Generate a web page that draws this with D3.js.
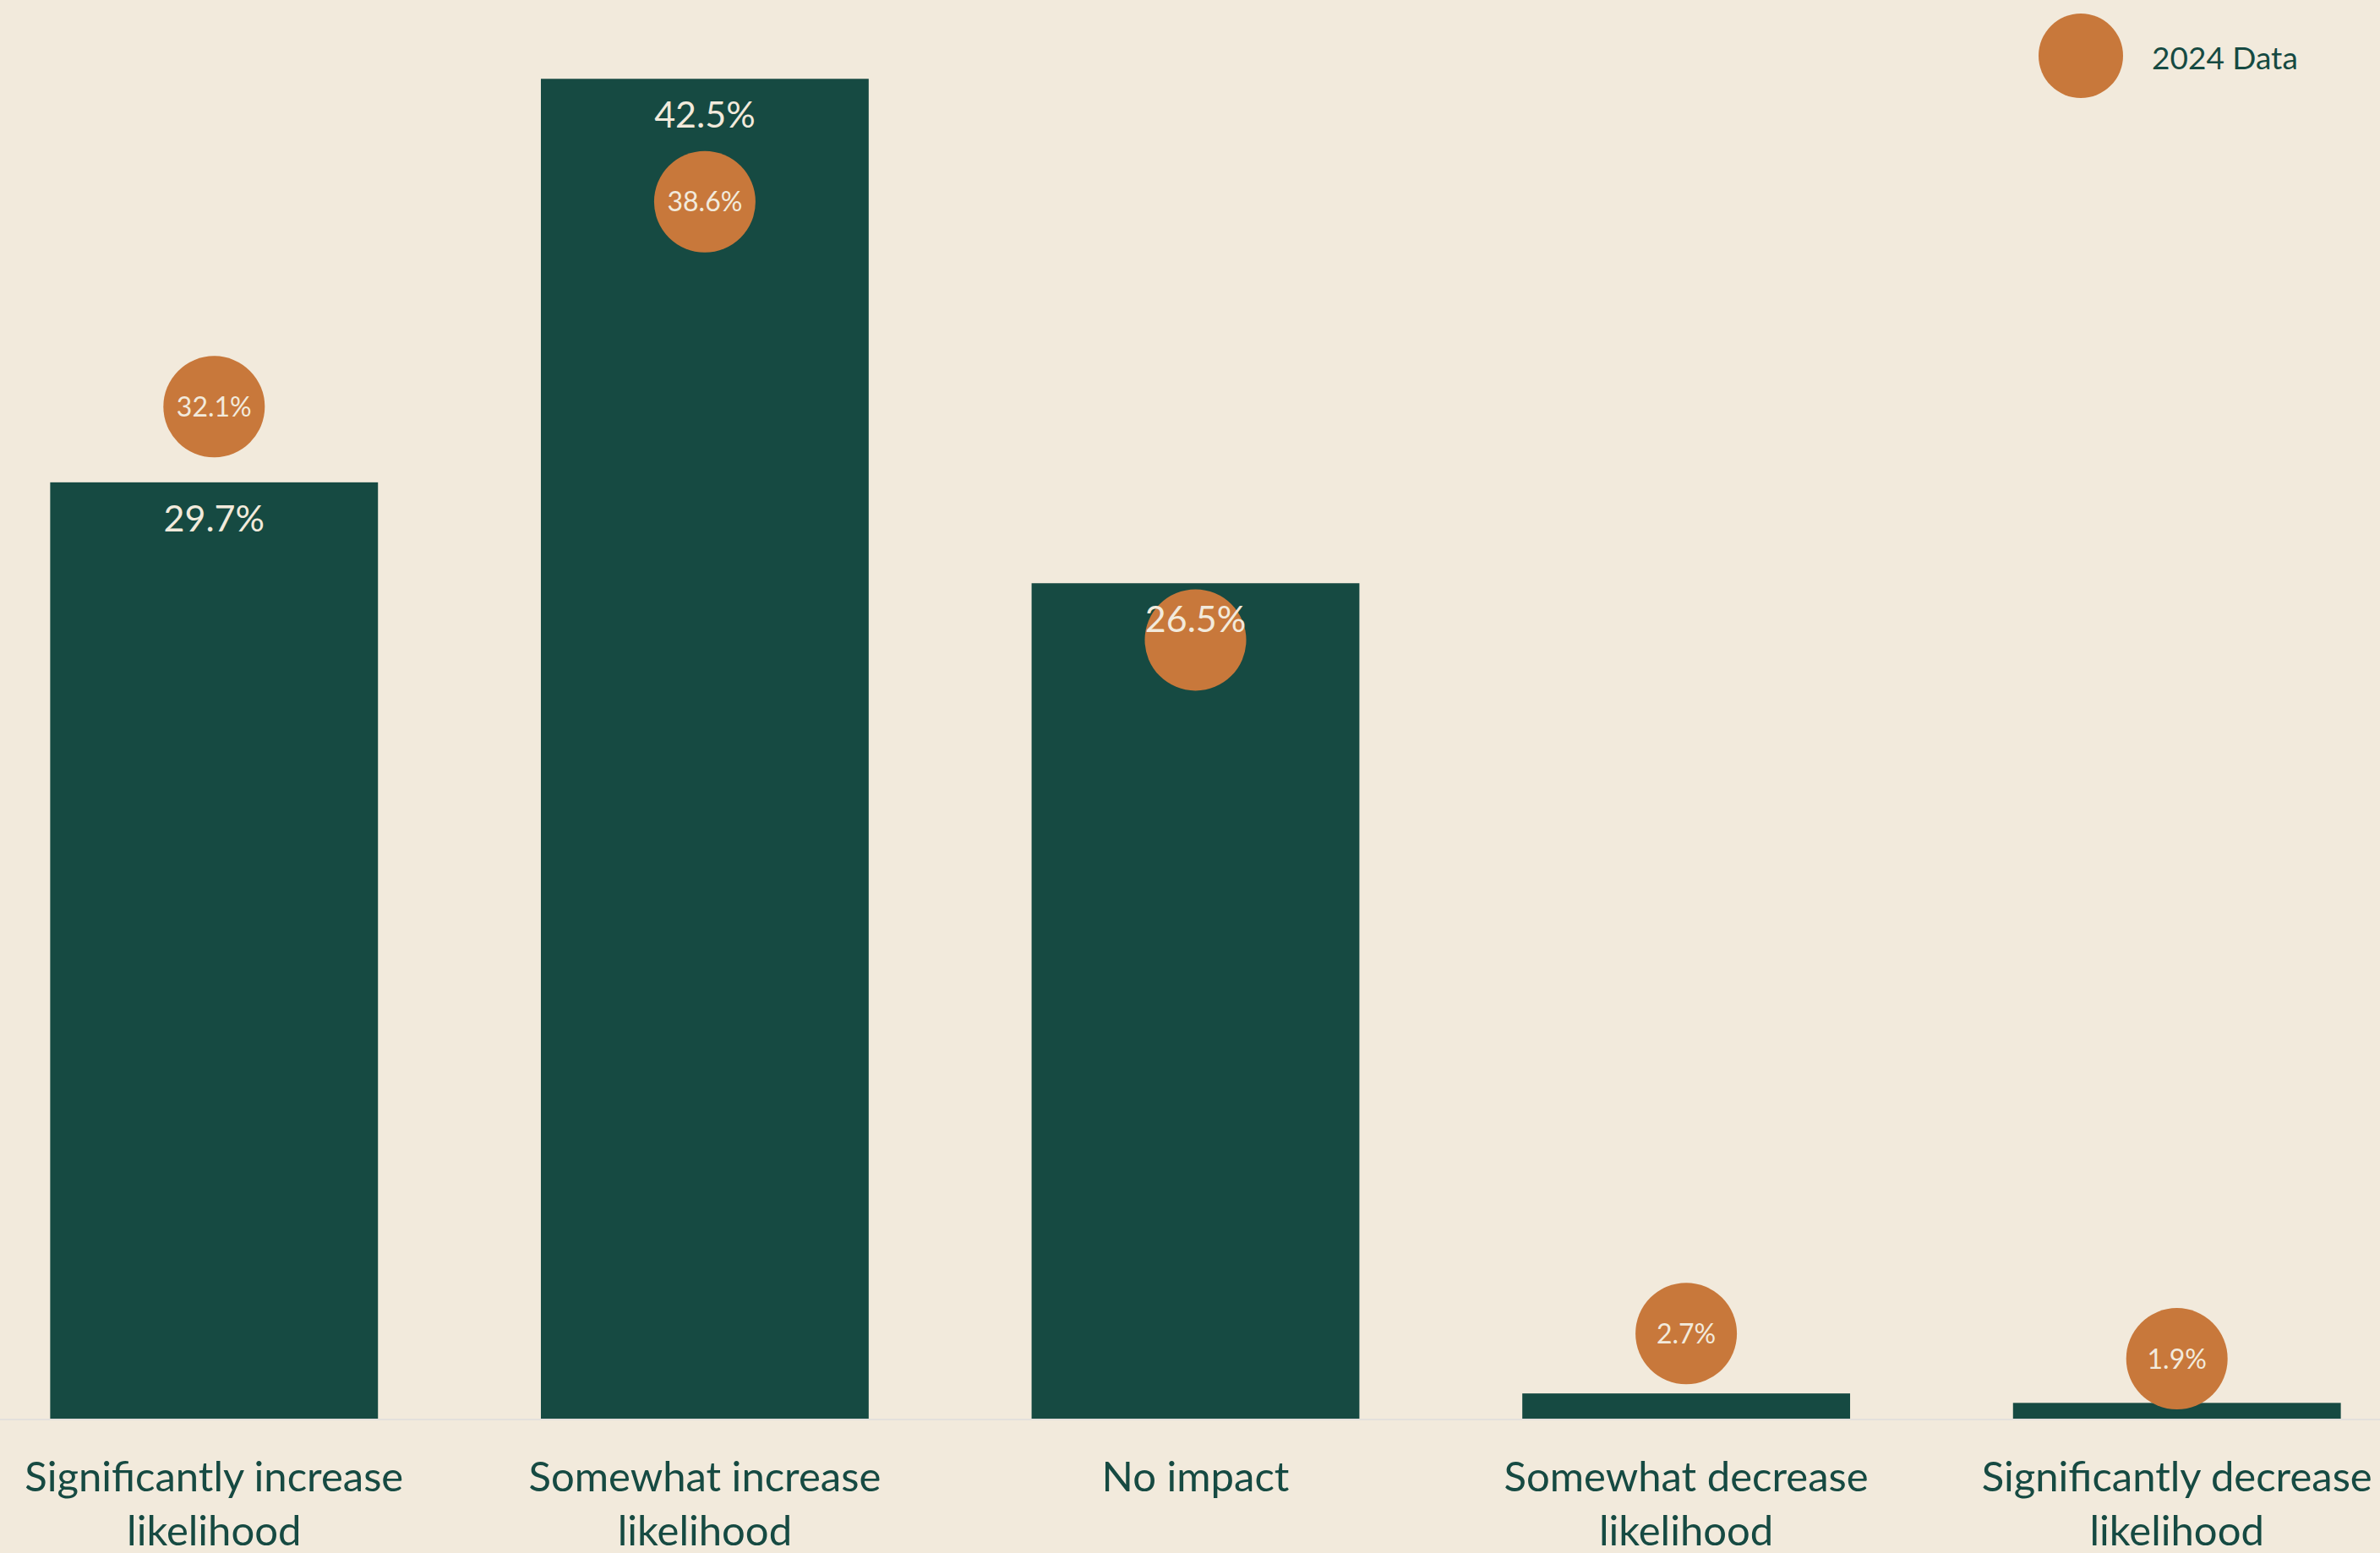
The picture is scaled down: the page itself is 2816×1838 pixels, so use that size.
<!DOCTYPE html>
<html>
<head>
<meta charset="utf-8">
<script src="https://cdn.jsdelivr.net/npm/d3@7"></script>
<style>
  html, body { margin: 0; padding: 0; background: #f2eadc; }
  svg { display: block; }
  text { font-family: Lato, "Open Sans", sans-serif; }
</style>
</head>
<body>
<svg id="chart"></svg>
<script>
// Responses: how each factor changes likelihood
const categories = [
  ["Significantly increase", "likelihood"],
  ["Somewhat increase", "likelihood"],
  ["No impact"],
  ["Somewhat decrease", "likelihood"],
  ["Significantly decrease", "likelihood"]
];
const currentValues = [29.7, 42.5, 26.5, 0.8, 0.5];
// labels shown inside the bars (the two thin bars carry none)
const currentLabels = ["29.7%", "42.5%", "26.5%", null, null];
const priorValues = [32.1, 38.6, 24.7, 2.7, 1.9];
// the "No impact" marker label is hidden behind the bar label
const priorLabels = ["32.1%", "38.6%", null, "2.7%", "1.9%"];
const legendLabel = "2024 Data";

const W = 2816, H = 1838;
const colors = { bg: "#f2eadc", bar: "#164a42", dot: "#c8783b", light: "#f2eadc", text: "#164a42", base: "#e4e0dc" };

const svg = d3.select("#chart").attr("width", W).attr("height", H);
svg.append("rect").attr("width", W).attr("height", H).attr("fill", colors.bg);

const x = d3.scaleBand()
  .domain(d3.range(categories.length))
  .range([-37, 2866])
  .paddingInner(0.332)
  .paddingOuter(0.166);

const y = d3.scaleLinear().domain([0, 45]).range([1679, 0]);

const rows = categories.map((c, i) => ({
  i, lines: c,
  v: currentValues[i], vLabel: currentLabels[i],
  p: priorValues[i], pLabel: priorLabels[i]
}));

// bars
svg.append("g").selectAll("rect").data(rows).join("rect")
  .attr("x", d => x(d.i))
  .attr("width", x.bandwidth())
  .attr("y", d => y(d.v))
  .attr("height", d => y(0) - y(d.v))
  .attr("fill", colors.bar);

// baseline
svg.append("line")
  .attr("x1", 0).attr("x2", W)
  .attr("y1", y(0) + 1).attr("y2", y(0) + 1)
  .attr("stroke", colors.base).attr("stroke-width", 2);

// 2024 markers
const dotR = 60;
const dots = svg.append("g").selectAll("g").data(rows).join("g")
  .attr("transform", d => `translate(${x(d.i) + x.bandwidth() / 2},${y(d.p)})`);
dots.append("circle").attr("r", dotR).attr("fill", colors.dot);
dots.filter(d => d.pLabel).append("text")
  .attr("text-anchor", "middle")
  .attr("dy", "0.36em")
  .attr("font-size", 32)
  .attr("fill", colors.light)
  .text(d => d.pLabel);

// bar value labels, inside the top of each bar
svg.append("g").selectAll("text").data(rows.filter(d => d.vLabel)).join("text")
  .attr("x", d => x(d.i) + x.bandwidth() / 2)
  .attr("y", d => y(d.v) + 58)
  .attr("text-anchor", "middle")
  .attr("font-size", 43)
  .attr("fill", colors.light)
  .text(d => d.vLabel);

// category axis labels
const axis = svg.append("g").selectAll("text").data(rows).join("text")
  .attr("x", d => x(d.i) + x.bandwidth() / 2)
  .attr("y", 1765)
  .attr("text-anchor", "middle")
  .attr("font-size", 49)
  .attr("fill", colors.text);
axis.selectAll("tspan").data(d => d.lines.map(l => ({ l, cx: x(d.i) + x.bandwidth() / 2 }))).join("tspan")
  .attr("x", t => t.cx)
  .attr("dy", (t, k) => k === 0 ? 0 : 64)
  .text(t => t.l);

// legend
const legend = svg.append("g").attr("transform", "translate(2462,66)");
legend.append("circle").attr("r", 50).attr("fill", colors.dot);
legend.append("text")
  .attr("x", 84).attr("y", 16)
  .attr("font-size", 37)
  .attr("fill", colors.text)
  .text(legendLabel);
</script>
</body>
</html>
